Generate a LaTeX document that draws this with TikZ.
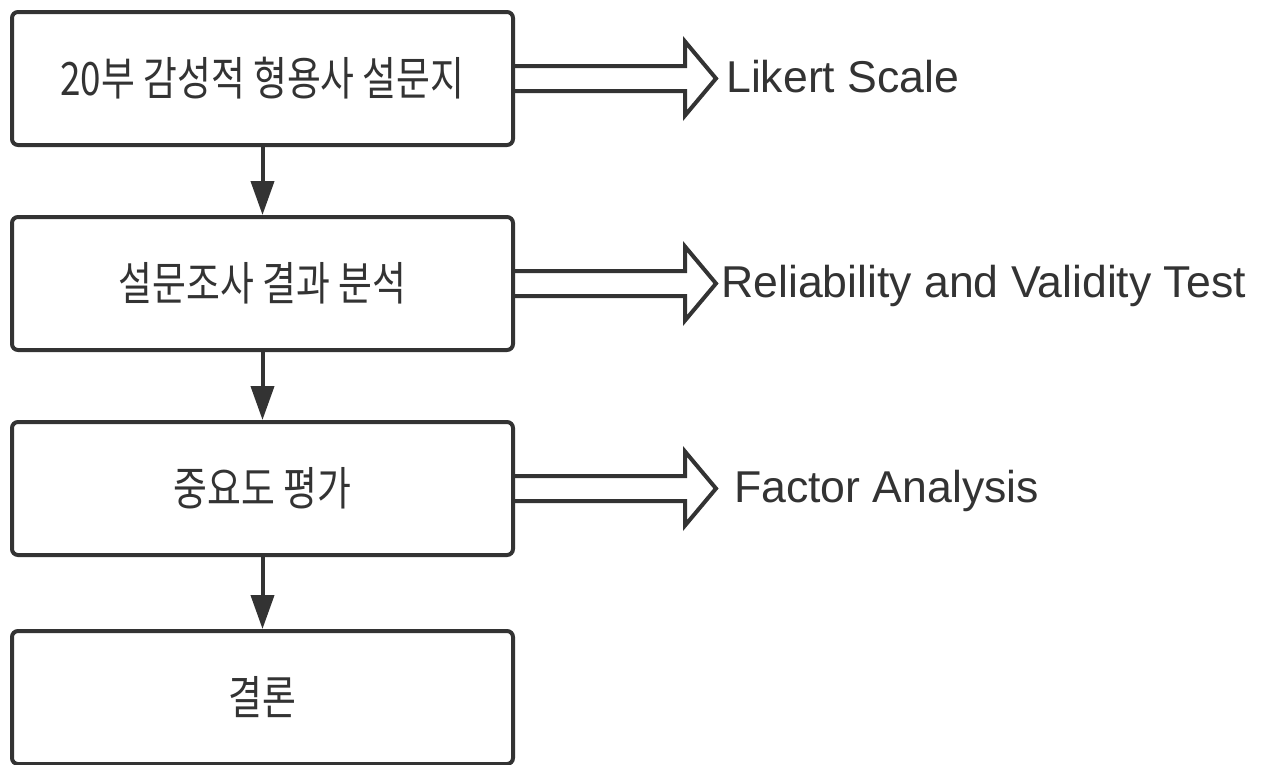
\documentclass[tikz,border=0pt]{standalone}
\usepackage{fontspec}
\setmainfont{Liberation Sans}
\newfontfamily\kr[FakeStretch=0.8]{Noto Sans CJK KR}
\usetikzlibrary{arrows.meta,calc}
\definecolor{ink}{HTML}{333333}
\tikzset{
  box/.style={draw=ink, line width=4pt, rounded corners=6pt, minimum width=501pt,
    minimum height=133pt, inner sep=0pt, text=ink, font=\kr\fontsize{46}{50}\selectfont},
  lab/.style={inner sep=0pt, text=ink, anchor=base west, font=\fontsize{44.6}{50}\selectfont},
  down/.style={draw=ink, line width=4pt, -{Triangle[length=34pt,width=23pt]}},
  hollow/.style={draw=ink, line width=4pt, line join=miter}
}
\begin{document}
\begin{tikzpicture}[x=1pt,y=-1pt]
\useasboundingbox (0,0) rectangle (1269,764);
\node[box] (b1) at (262.5,78.5) {20부 감성적 형용사 설문지};
\node[box] (b2) at (262.5,283.5) {설문조사 결과 분석};
\node[box] (b3) at (262.5,488.5) {중요도 평가};
\node[box] (b4) at (262.5,697.5) {결론};
\draw[down] (b1.south) -- (b2.north);
\draw[down] (b2.south) -- (b3.north);
\draw[down] (b3.south) -- (b4.north);
\node[lab] (l1) at (726,92) {Likert Scale};
\node[lab] (l2) at (721,297.5) {Reliability and Validity Test};
\node[lab] (l3) at (734,502.5) {Factor Analysis};
\foreach \b in {b1,b2,b3}{
  \draw[hollow] (\b.east) ++(-2,-12.5) -- ++(172,0) -- ++(0,-24.5) -- ++(31,37)
     -- ++(-31,37) -- ++(0,-24.5) -- ++(-172,0);
}
\end{tikzpicture}
\end{document}
